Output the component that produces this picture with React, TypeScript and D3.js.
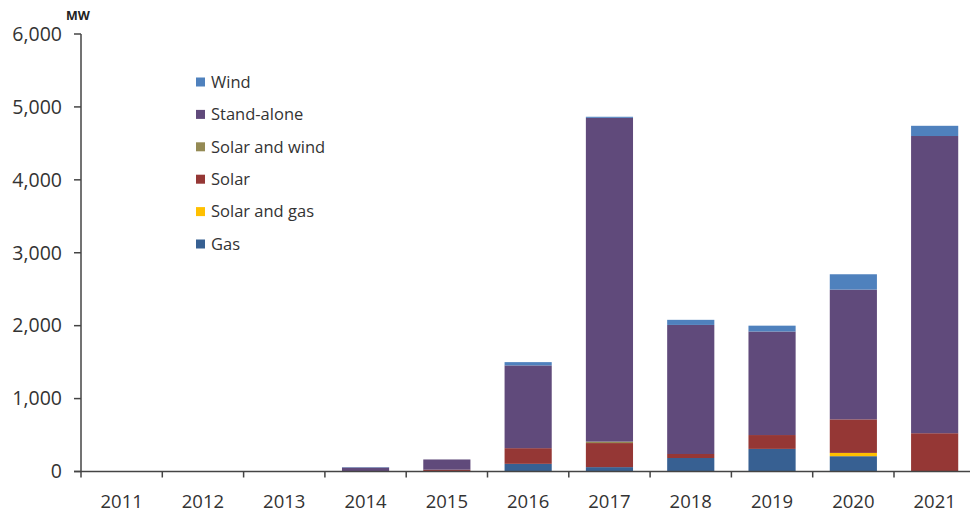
import React from "react";
import * as d3 from "d3";

const years = ["2011", "2012", "2013", "2014", "2015", "2016", "2017", "2018", "2019", "2020", "2021"];
const gas = [0, 0, 0, 0, 0, 105, 60, 185, 310, 210, 0];
const solarAndGas = [0, 0, 0, 0, 0, 0, 0, 0, 0, 45, 0];
const solar = [0, 0, 0, 0, 25, 215, 330, 55, 190, 460, 525];
const solarAndWind = [0, 0, 0, 0, 0, 0, 20, 0, 0, 0, 0];
const standAlone = [0, 0, 0, 55, 140, 1135, 4440, 1770, 1420, 1780, 4076];
const wind = [0, 0, 0, 5, 0, 45, 15, 70, 80, 210, 140];
const yTicks = [0, 1000, 2000, 3000, 4000, 5000, 6000];

const seriesKeys = ["Gas", "Solar and gas", "Solar", "Solar and wind", "Stand-alone", "Wind"];
const seriesValues = [gas, solarAndGas, solar, solarAndWind, standAlone, wind];
const colors: Record<string, string> = {
  Gas: "#376092",
  "Solar and gas": "#ffc000",
  Solar: "#953735",
  "Solar and wind": "#948a54",
  "Stand-alone": "#604a7b",
  Wind: "#4f81bd",
};
const legendOrder = ["Wind", "Stand-alone", "Solar and wind", "Solar", "Solar and gas", "Gas"];

export default function App() {
  const W = 970, H = 516;
  const x0 = 81, step = 81.3;
  const x = d3.scaleBand<string>().domain(years).range([x0, x0 + step * years.length]).paddingInner(0.42).paddingOuter(0.21);
  const y = d3.scaleLinear().domain([0, 6000]).range([471.5, 34]);
  const table = years.map((yr, i) => {
    const row: any = { year: yr };
    seriesKeys.forEach((k, j) => (row[k] = seriesValues[j][i]));
    return row;
  });
  const stacked = d3.stack<any>().keys(seriesKeys)(table);
  const textColor = "#333";
  const font = "'Open Sans', sans-serif";
  const axisX = x0;
  return (
    <svg width={W} height={H} style={{ position: "absolute", left: 0, top: 0, background: "#fff" }} fontFamily={font}>
      <rect width={W} height={H} fill="#fff" />
      {stacked.map((s) => (
        <g key={s.key} fill={colors[s.key]}>
          {s.map((d, i) =>
            d[1] - d[0] > 0 ? (
              <rect key={i} x={x(years[i])} width={x.bandwidth()} y={y(d[1])} height={y(d[0]) - y(d[1])} />
            ) : null
          )}
        </g>
      ))}
      {/* y axis */}
      <line x1={axisX} x2={axisX} y1={y(6000)} y2={y(0) + 6} stroke="#444" strokeWidth={1.5} />
      {yTicks.map((t) => (
        <g key={t}>
          <line x1={axisX - 7} x2={axisX} y1={y(t)} y2={y(t)} stroke="#444" strokeWidth={1.5} />
          <text x={62} y={y(t)} dy="0.35em" textAnchor="end" fontSize={19.5} fill={textColor}>
            {d3.format(",")(t)}
          </text>
        </g>
      ))}
      <text x={66} y={20} fontSize={12.5} fontWeight="bold" fill="#222">MW</text>
      {/* x axis */}
      <line x1={axisX - 7} x2={W} y1={y(0)} y2={y(0)} stroke="#444" strokeWidth={1.5} />
      {years.map((yr, i) => (
        <g key={yr}>
          {i > 0 && (
            <line x1={x0 + step * i} x2={x0 + step * i} y1={y(0)} y2={y(0) + 6} stroke="#444" strokeWidth={1.5} />
          )}
          <text x={(x(yr) as number) + x.bandwidth() / 2} y={508} textAnchor="middle" fontSize={18.5} fill={textColor}>
            {yr}
          </text>
        </g>
      ))}
      {/* legend */}
      {legendOrder.map((k, i) => (
        <g key={k} transform={`translate(196, ${82 + i * 32.4})`}>
          <rect x={0} y={-4.5} width={9} height={9} fill={colors[k]} />
          <text x={15} y={0} dy="0.35em" fontSize={16.5} fill={textColor}>
            {k}
          </text>
        </g>
      ))}
    </svg>
  );
}
